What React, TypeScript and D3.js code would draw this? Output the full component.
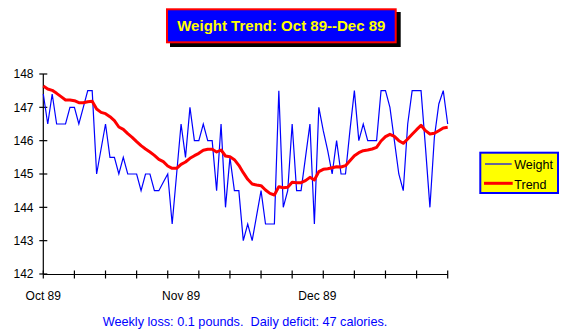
import React from "react";
import * as d3 from "d3";

const weights: number[] = [
  147.4, 146.5, 147.4, 146.5, 146.5, 146.5, 147, 147, 146.5, 147,
  147.5, 147.5, 145, 145.75, 146.5, 145.5, 145.5, 145, 145.5, 145,
  145, 145, 144.5, 145, 145, 144.5, 144.5, 144.75, 145, 143.5,
  145, 146.5, 145.5, 147, 146, 146, 146.5, 146, 146, 144.5,
  146.5, 144, 145.5, 144.5, 144.5, 143, 143.5, 143, 143.75, 144.5,
  143.5, 143.5, 143.5, 147.5, 144, 144.5, 146.5, 144.5, 144.5, 145.5,
  146.5, 143.5, 147, 146.3, 145.7, 145, 146, 145, 145, 146.3,
  147.5, 146, 146.5, 146, 146, 146, 147.5, 147.5, 147, 146,
  145, 144.5, 146.5, 147.5, 147.5, 147.5, 145.8, 144, 146.1, 147.1,
  147.5, 146.5,
];

const trend: number[] = [
  147.64, 147.55, 147.51, 147.42, 147.32, 147.22, 147.22, 147.2, 147.14, 147.14,
  147.17, 147.18, 146.95, 146.85, 146.81, 146.72, 146.6, 146.41, 146.34, 146.21,
  146.1, 145.97, 145.85, 145.75, 145.66, 145.56, 145.44, 145.37, 145.24, 145.17,
  145.17, 145.29, 145.36, 145.47, 145.55, 145.62, 145.71, 145.74, 145.74, 145.66,
  145.72, 145.54, 145.52, 145.43, 145.26, 145.04, 144.84, 144.7, 144.67, 144.65,
  144.52, 144.42, 144.37, 144.62, 144.59, 144.6, 144.75, 144.74, 144.74, 144.8,
  144.9, 144.82, 145.07, 145.14, 145.16, 145.19, 145.22, 145.21, 145.25, 145.4,
  145.55, 145.64, 145.7, 145.72, 145.75, 145.8, 145.99, 146.12, 146.19, 146.13,
  146.0, 145.92, 146.05, 146.19, 146.33, 146.46, 146.3, 146.2, 146.22, 146.3,
  146.38, 146.4,
];

const yTicks: number[] = [142, 143, 144, 145, 146, 147, 148];
const monthLabels: string[] = ["Oct 89", "Nov 89", "Dec 89"];
const monthStarts: Date[] = [new Date(1989, 9, 1), new Date(1989, 10, 1), new Date(1989, 11, 1)];
const seriesNames: string[] = ["Weight", "Trend"];
const titleText = "Weight Trend: Oct 89--Dec 89";
const footerText = "Weekly loss: 0.1 pounds.  Daily deficit: 47 calories.";

const startDate = new Date(1989, 9, 1);
const dayDate = (i: number) => new Date(1989, 9, 1 + i);

export default function App() {
  const W = 566, H = 334;
  const x = d3.scaleTime().domain([startDate, dayDate(weights.length - 1)]).range([43.3, 447.7]);
  const y = d3.scaleLinear().domain([142, 148]).range([274, 74]);
  const weekTicks = d3.range(0, 92, 7).map(dayDate);
  const line = d3.line<number>().x((_, i) => x(dayDate(i))).y((d) => y(d));
  const font = "'Liberation Sans', Arial, sans-serif";

  return (
    <svg width={W} height={H} style={{ position: "absolute", left: 0, top: 0, background: "#fff" }} fontFamily={font}>
      <rect x={0} y={0} width={W} height={H} fill="#fff" />
      {/* Title box */}
      <rect x={170} y={12} width={230.7} height={35} fill="#000" />
      <rect x={167} y={9.3} width={228.7} height={33} fill="#0000ff" stroke="#ff0000" strokeWidth={2} />
      <text x={281.3} y={31} textAnchor="middle" fontSize={15} fontWeight="bold" fill="#ffff00">{titleText}</text>

      {/* Axes */}
      <line x1={43.3} x2={43.3} y1={74} y2={274} stroke="#000" strokeWidth={1.2} />
      <line x1={43.3} x2={447.7} y1={274.5} y2={274.5} stroke="#000" strokeWidth={1.2} />
      {yTicks.map((t) => (
        <g key={t}>
          <line x1={39.3} x2={47.3} y1={y(t)} y2={y(t)} stroke="#000" strokeWidth={1.2} />
          <text x={33.5} y={y(t)} dy="0.36em" textAnchor="end" fontSize={12} fill="#000">{t}</text>
        </g>
      ))}
      {weekTicks.map((d, i) => (
        <line key={i} x1={x(d)} x2={x(d)} y1={270.5} y2={278.5} stroke="#000" strokeWidth={1.2} />
      ))}
      {monthStarts.map((d, i) => (
        <text key={i} x={x(d) + (i === 2 ? 3 : 0)} y={300} textAnchor="middle" fontSize={12} fill="#000">{monthLabels[i]}</text>
      ))}

      {/* Series */}
      <path d={line(weights) || ""} fill="none" stroke="#0000ff" strokeWidth={1.2} />
      <path d={line(trend) || ""} fill="none" stroke="#ff0000" strokeWidth={3} strokeLinejoin="round" />

      {/* Legend */}
      <rect x={480.3} y={152.7} width={77.7} height={40.3} fill="#ffff00" stroke="#0000ff" strokeWidth={2} />
      <line x1={485} x2={511.7} y1={164} y2={164} stroke="#0000ff" strokeWidth={1.2} />
      <text x={514.3} y={168.5} fontSize={12.5} fill="#000">{seriesNames[0]}</text>
      <line x1={484} x2={512.7} y1={183.3} y2={183.3} stroke="#ff0000" strokeWidth={3} />
      <text x={514.3} y={189} fontSize={12.5} fill="#000">{seriesNames[1]}</text>

      {/* Footer */}
      <text x={245} y={326} textAnchor="middle" fontSize={12.7} fill="#0000ff" style={{ whiteSpace: "pre" }} xmlSpace="preserve">{footerText}</text>
    </svg>
  );
}
